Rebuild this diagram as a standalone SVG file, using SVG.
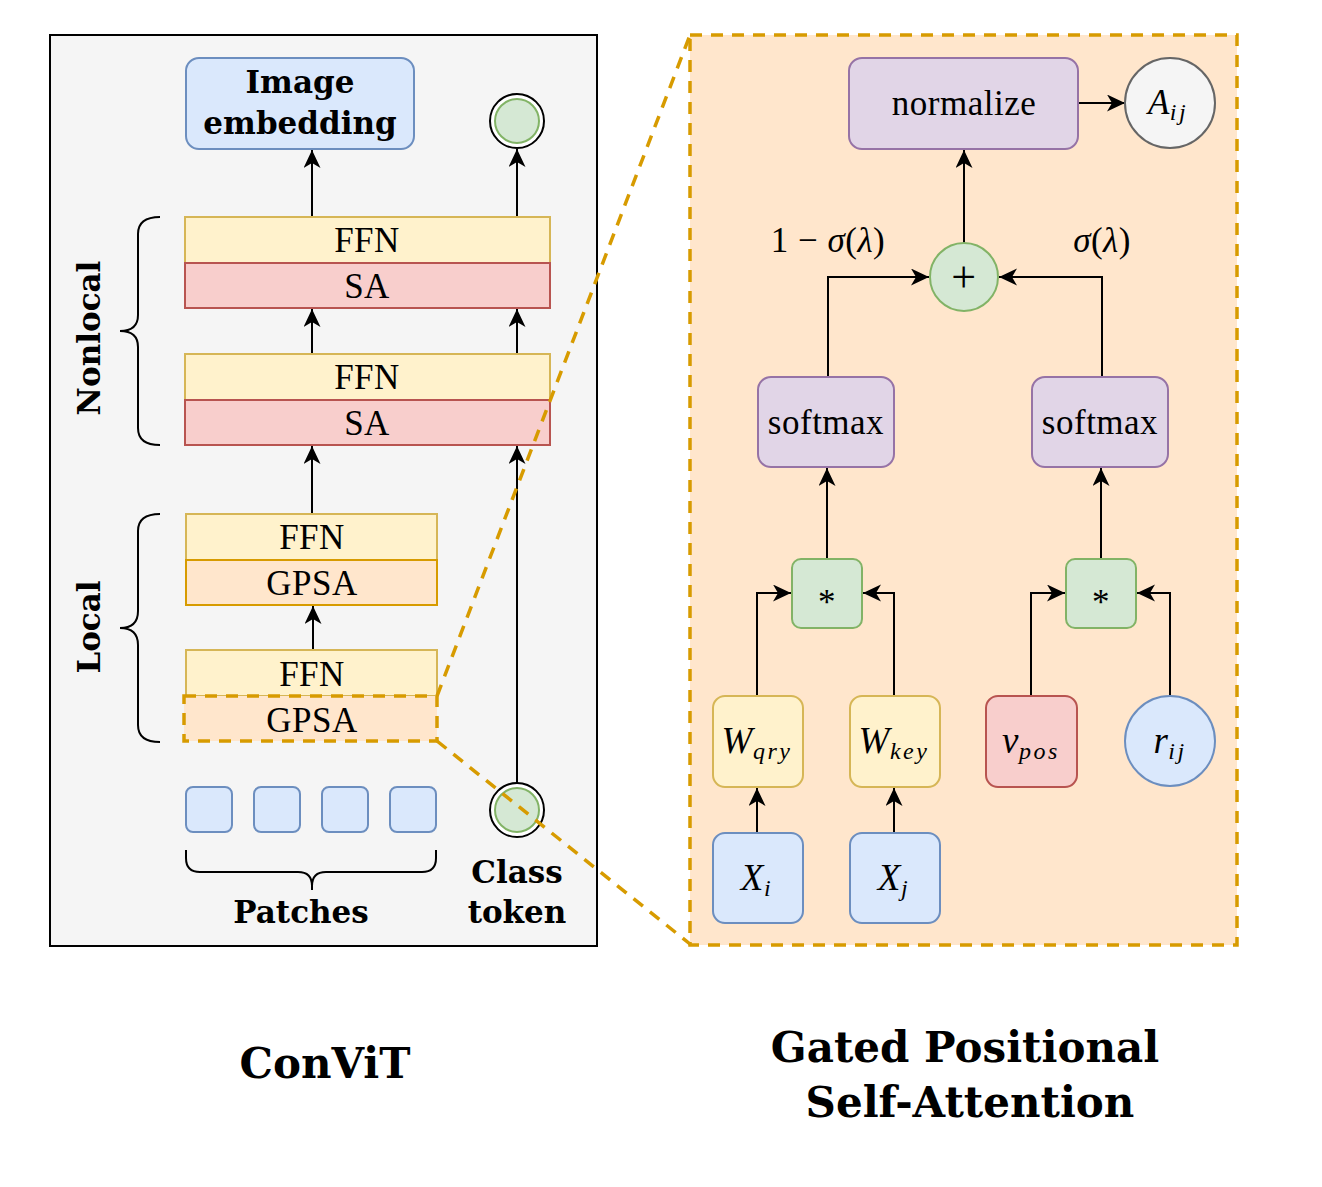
<svg xmlns="http://www.w3.org/2000/svg" width="1322" height="1187" viewBox="0 0 1322 1187">
<style>
text{font-family:"Liberation Serif","Times New Roman",serif;fill:#000;}
.lbl{font-size:35px;text-anchor:middle;letter-spacing:0.5px;}
.bl{font-family:"DejaVu Serif",serif;font-weight:bold;letter-spacing:0;font-size:31px;text-anchor:middle;}
.title{font-family:"DejaVu Serif",serif;font-weight:bold;font-size:42px;text-anchor:middle;}
.it{font-style:italic;}
.math{font-size:37px;}
.sub{font-size:24px;letter-spacing:2.5px;}
.ffn{fill:#fff2cc;stroke:#d6b656;stroke-width:2;}
.sa{fill:#f8cecc;stroke:#b85450;stroke-width:2;}
.gpsa{fill:#ffe6cc;stroke:#d79b00;stroke-width:2;}
.blue{fill:#dae8fc;stroke:#6c8ebf;stroke-width:2;}
.purple{fill:#e1d5e7;stroke:#9673a6;stroke-width:2;}
.green{fill:#d5e8d4;stroke:#82b366;stroke-width:2;}
.conn{fill:none;stroke:#000;stroke-width:2;marker-end:url(#arr);}
.brace{fill:none;stroke:#000;stroke-width:2;}
.dash{fill:none;stroke:#d79b00;stroke-width:3.5;stroke-dasharray:12 9;}
</style>
<defs>
<marker id="arr" markerUnits="userSpaceOnUse" markerWidth="20" markerHeight="18" refX="18" refY="8.5" orient="auto">
<path d="M0,0 L18,8.5 L0,17 L5,8.5 z" fill="#000"/>
</marker>
</defs>

<!-- left panel -->
<rect x="50" y="35" width="547" height="911" fill="#f5f5f5" stroke="#000" stroke-width="2"/>

<!-- right panel -->
<rect x="690" y="35" width="547" height="910" fill="#ffe6cc" stroke="none"/>

<g id="connectors">
<line class="conn" x1="312" y1="217" x2="312" y2="150"/>
<line class="conn" x1="517" y1="217" x2="517" y2="149"/>
<line class="conn" x1="312" y1="354" x2="312" y2="309"/>
<line class="conn" x1="517" y1="354" x2="517" y2="309"/>
<line class="conn" x1="312" y1="514" x2="312" y2="446"/>
<line class="conn" x1="517" y1="783" x2="517" y2="446"/>
<line class="conn" x1="313" y1="650" x2="313" y2="606"/>

<line class="conn" x1="964" y1="243" x2="964" y2="150"/>
<line class="conn" x1="1078" y1="103" x2="1125" y2="103"/>
<polyline class="conn" points="828,377 828,277 929,277"/>
<polyline class="conn" points="1102,377 1102,277 999,277"/>
<line class="conn" x1="827" y1="559" x2="827" y2="468"/>
<line class="conn" x1="1101" y1="559" x2="1101" y2="468"/>
<polyline class="conn" points="757,696 757,593 791,593"/>
<polyline class="conn" points="894,696 894,593 863,593"/>
<polyline class="conn" points="1031,696 1031,593 1065,593"/>
<polyline class="conn" points="1170,696 1170,593 1137,593"/>
<line class="conn" x1="757" y1="833" x2="757" y2="788"/>
<line class="conn" x1="894" y1="833" x2="894" y2="788"/>
</g>

<!-- left panel nodes -->
<g id="image-embedding">
<rect class="blue" x="186" y="58" width="228" height="91" rx="13"/>
<text class="bl" x="300" y="93">Image</text>
<text class="bl" x="300" y="134">embedding</text>
</g>
<g id="out-token">
<circle cx="517" cy="121" r="27" fill="#fff" stroke="#000" stroke-width="2"/>
<circle cx="517" cy="121" r="22" class="green"/>
</g>
<g id="nl-block2">
<rect class="ffn" x="185" y="217" width="365" height="46"/>
<text class="lbl" x="367" y="252">FFN</text>
<rect class="sa" x="185" y="263" width="365" height="45"/>
<text class="lbl" x="367" y="298">SA</text>
</g>
<g id="nl-block1">
<rect class="ffn" x="185" y="354" width="365" height="46"/>
<text class="lbl" x="367" y="389">FFN</text>
<rect class="sa" x="185" y="400" width="365" height="45"/>
<text class="lbl" x="367" y="435">SA</text>
</g>
<g id="l-block2">
<rect class="ffn" x="186" y="514" width="251" height="46"/>
<text class="lbl" x="312" y="549">FFN</text>
<rect class="gpsa" x="186" y="560" width="251" height="45"/>
<text class="lbl" x="312" y="595">GPSA</text>
</g>
<g id="l-block1">
<rect class="ffn" x="186" y="650" width="251" height="46"/>
<text class="lbl" x="312" y="686">FFN</text>
<rect x="184" y="696" width="253" height="45" fill="#ffe6cc" stroke="#d79b00" stroke-width="3.5" stroke-dasharray="12 9"/>
<text class="lbl" x="312" y="732">GPSA</text>
</g>
<g id="nonlocal-brace">
<path class="brace" d="M160,217 Q138,217 138,234 L138,315 Q138,331 120,331 Q138,331 138,347 L138,428 Q138,445 160,445"/>
<text class="bl" transform="rotate(-90 100 338)" x="100" y="338">Nonlocal</text>
</g>
<g id="local-brace">
<path class="brace" d="M160,514 Q138,514 138,531 L138,611 Q138,628 120,628 Q138,628 138,645 L138,725 Q138,742 160,742"/>
<text class="bl" transform="rotate(-90 100 627)" x="100" y="627">Local</text>
</g>
<g id="patches">
<rect class="blue" x="186" y="787" width="46" height="45" rx="7"/>
<rect class="blue" x="254" y="787" width="46" height="45" rx="7"/>
<rect class="blue" x="322" y="787" width="46" height="45" rx="7"/>
<rect class="blue" x="390" y="787" width="46" height="45" rx="7"/>
<path class="brace" d="M186,850 L186,858 Q186,872 200,872 L298,872 Q312,872 312,886 L312,890 M312,886 Q312,872 326,872 L422,872 Q436,872 436,858 L436,850"/>
<text class="bl" x="301" y="923">Patches</text>
</g>
<g id="class-token">
<circle cx="517" cy="810" r="27" fill="#fff" stroke="#000" stroke-width="2"/>
<circle cx="517" cy="810" r="22" class="green"/>
<text class="bl" x="517" y="883">Class</text>
<text class="bl" x="517" y="923">token</text>
</g>

<!-- zoom dashed lines and right border -->
<g id="zoom-lines">
<line class="dash" x1="437" y1="696" x2="690" y2="35"/>
<line class="dash" x1="437" y1="741" x2="690" y2="944"/>
<rect class="dash" x="690" y="35" width="547" height="910"/>
</g>

<!-- right panel nodes -->
<g id="normalize">
<rect class="purple" x="849" y="58" width="229" height="91" rx="13"/>
<text class="lbl" x="964" y="115">normalize</text>
</g>
<g id="aij">
<circle cx="1170" cy="103" r="45" fill="#f5f5f5" stroke="#666" stroke-width="2"/>
<text class="lbl it" x="1168" y="114">A<tspan class="sub" dy="6">ij</tspan></text>
</g>
<g id="plus">
<circle cx="964" cy="277" r="34" class="green"/>
<text class="lbl" x="964" y="292" style="font-size:44px">+</text>
</g>
<g id="gate-labels">
<text class="lbl" x="828" y="252">1 − <tspan class="it">σ</tspan>(<tspan class="it">λ</tspan>)</text>
<text class="lbl" x="1102" y="252"><tspan class="it">σ</tspan>(<tspan class="it">λ</tspan>)</text>
</g>
<g id="softmax-left">
<rect class="purple" x="758" y="377" width="136" height="90" rx="13"/>
<text class="lbl" x="826" y="434">softmax</text>
</g>
<g id="softmax-right">
<rect class="purple" x="1032" y="377" width="136" height="90" rx="13"/>
<text class="lbl" x="1100" y="434">softmax</text>
</g>
<g id="mul-left">
<rect class="green" x="792" y="559" width="70" height="69" rx="9"/>
<text class="lbl" x="827" y="614">*</text>
</g>
<g id="mul-right">
<rect class="green" x="1066" y="559" width="70" height="69" rx="9"/>
<text class="lbl" x="1101" y="614">*</text>
</g>
<g id="wqry">
<rect class="ffn" x="713" y="696" width="90" height="91" rx="12"/>
<text class="lbl it math" x="757" y="753">W<tspan class="sub" dy="6">qry</tspan></text>
</g>
<g id="wkey">
<rect class="ffn" x="850" y="696" width="90" height="91" rx="12"/>
<text class="lbl it math" x="894" y="753">W<tspan class="sub" dy="6">key</tspan></text>
</g>
<g id="vpos">
<rect class="sa" x="986" y="696" width="91" height="91" rx="12"/>
<text class="lbl it math" x="1031" y="753">v<tspan class="sub" dy="6">pos</tspan></text>
</g>
<g id="rij">
<circle cx="1170" cy="741" r="45" class="blue"/>
<text class="lbl it math" x="1170" y="753">r<tspan class="sub" dy="6">ij</tspan></text>
</g>
<g id="xi">
<rect class="blue" x="713" y="833" width="90" height="90" rx="12"/>
<text class="lbl it math" x="757" y="890">X<tspan class="sub" dy="6">i</tspan></text>
</g>
<g id="xj">
<rect class="blue" x="850" y="833" width="90" height="90" rx="12"/>
<text class="lbl it math" x="894" y="890">X<tspan class="sub" dy="6">j</tspan></text>
</g>

<!-- titles -->
<text class="title" x="325" y="1078">ConViT</text>
<text class="title" x="965" y="1062">Gated Positional</text>
<text class="title" x="970" y="1117">Self-Attention</text>
</svg>
